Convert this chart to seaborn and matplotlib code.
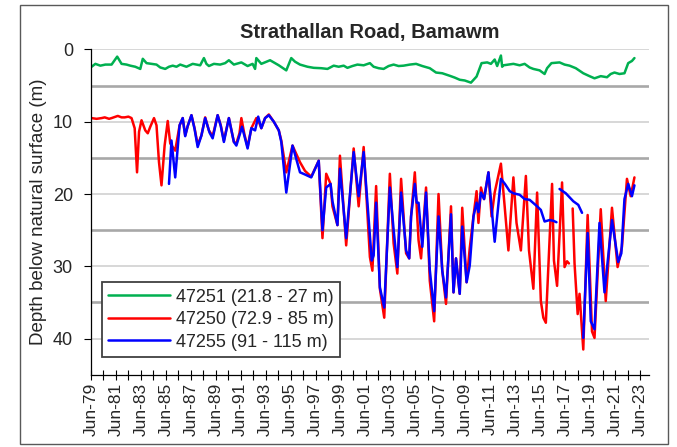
import numpy as np
import pandas as pd
import matplotlib
matplotlib.use('Agg')
import matplotlib.pyplot as plt
from matplotlib.patches import Rectangle
from matplotlib.ticker import FixedLocator, MultipleLocator
import seaborn as sns

# Bore 47251 (shallow)
green_year = [1979.5, 1979.8, 1980.2, 1980.6, 1981.1, 1981.55, 1981.9, 1982.3, 1982.6, 1983.0,
              1983.4, 1983.6, 1983.9, 1984.3, 1984.7, 1985.0, 1985.4, 1985.7, 1986.0, 1986.3,
              1986.6, 1987.1, 1987.6, 1988.2, 1988.5, 1988.7, 1988.9, 1989.3, 1989.8, 1990.2,
              1990.5, 1990.9, 1991.5, 1992.0, 1992.4, 1992.6, 1992.7, 1993.1, 1993.8, 1994.5,
              1995.1, 1995.5, 1995.8, 1996.2, 1996.8, 1997.3, 1997.9, 1998.4, 1998.9, 1999.3,
              1999.7, 2000.0, 2000.4, 2000.8, 2001.3, 2001.8, 2002.1, 2002.5, 2002.9, 2003.3,
              2003.7, 2004.1, 2004.5, 2005.0, 2005.5, 2006.0, 2006.6, 2007.1, 2007.6, 2008.2,
              2008.6, 2009.0, 2009.4, 2009.9, 2010.35, 2010.75, 2011.2, 2011.5, 2011.8, 2012.0,
              2012.3, 2012.4, 2012.5, 2012.9, 2013.3, 2013.8, 2014.2, 2014.6, 2014.9, 2015.4,
              2015.8, 2016.0, 2016.35, 2017.0, 2017.4, 2017.8, 2018.3, 2018.9, 2019.4, 2019.8,
              2020.3, 2020.8, 2021.1, 2021.4, 2021.8, 2022.2, 2022.5, 2022.8, 2023.0]
green_depth = [2.4, 2.0, 2.25, 2.1, 2.1, 1.0, 2.0, 2.1, 2.25, 2.4,
               2.7, 1.3, 1.9, 2.0, 2.1, 2.5, 2.7, 2.4, 2.25, 2.4,
               2.1, 2.4, 2.0, 2.2, 1.2, 2.0, 2.3, 2.0, 2.1, 1.9,
               1.5, 2.1, 1.8, 2.3, 2.0, 2.7, 1.2, 2.0, 1.5, 2.2,
               2.9, 1.2, 1.7, 2.1, 2.4, 2.55, 2.6, 2.7, 2.25, 2.4,
               2.25, 2.55, 2.3, 2.1, 2.2, 1.9, 2.4, 2.6, 2.7, 2.3,
               2.1, 2.3, 2.25, 2.1, 2.0, 2.3, 2.6, 3.2, 3.3, 3.65,
               3.9, 4.2, 4.3, 4.6, 3.75, 1.9, 1.8, 2.0, 1.4, 2.3,
               0.85, 2.4, 2.2, 2.1, 2.0, 2.2, 2.0, 2.5, 2.7, 2.9,
               3.4, 2.6, 1.9, 1.8, 2.1, 2.25, 2.6, 3.3, 3.7, 4.0,
               3.7, 3.85, 3.4, 3.2, 3.4, 3.3, 1.9, 1.6, 1.2]

# Bore 47250 (mid depth), two segments
red_year_a = [1979.48, 1979.9, 1980.3, 1980.55, 1980.9, 1981.1, 1981.6, 1981.9, 1982.15, 1982.45,
              1982.7, 1982.95, 1983.14, 1983.3, 1983.5, 1983.8, 1984.0, 1984.2, 1984.5, 1984.7,
              1984.9, 1985.1, 1985.35, 1985.6, 1985.8, 1986.2, 1986.55, 1986.8, 1987.0, 1987.2,
              1987.5, 1987.75, 1988.0, 1988.3, 1988.6, 1988.9, 1989.2, 1989.6, 1989.85, 1990.1,
              1990.5, 1990.9, 1991.1, 1991.35, 1991.5, 1991.75, 1992.0, 1992.3, 1992.7, 1992.9,
              1993.1, 1993.4, 1993.7, 1994.1, 1994.5, 1994.7, 1995.1, 1995.6, 1996.2, 1996.6,
              1997.1, 1997.7, 1998.0, 1998.3, 1998.65, 1998.8, 1999.2, 1999.4, 1999.9, 2000.5,
              2000.9, 2001.3, 2001.8, 2002.0, 2002.3, 2002.6, 2002.95, 2003.4, 2003.7, 2004.0,
              2004.3, 2004.7, 2004.95, 2005.1, 2005.4, 2005.7, 2005.9, 2006.3, 2006.6, 2006.95,
              2007.3, 2007.6, 2007.9, 2008.3, 2008.5, 2008.7, 2009.0, 2009.2, 2009.55, 2009.8,
              2010.1, 2010.35, 2010.5, 2010.7, 2010.95, 2011.3, 2011.55, 2011.8, 2012.3, 2012.6,
              2012.9, 2013.3, 2013.55, 2013.9, 2014.3, 2014.55, 2014.9, 2015.2, 2015.5, 2015.7,
              2015.9, 2016.4, 2016.55, 2016.8, 2017.2, 2017.4, 2017.6, 2017.75]
red_depth_a = [9.5, 9.6, 9.5, 9.4, 9.6, 9.5, 9.2, 9.4, 9.4, 9.3,
               9.5, 10.9, 17.0, 11.4, 9.8, 11.2, 11.6, 10.7, 9.5, 10.5,
               15.6, 18.8, 13.3, 9.9, 13.0, 14.0, 10.5, 9.5, 11.9, 10.6,
               9.1, 10.9, 13.2, 11.9, 9.4, 11.2, 12.0, 9.1, 10.5, 12.6,
               9.5, 12.8, 13.0, 11.6, 9.5, 11.8, 13.5, 10.9, 9.5, 10.0,
               10.9, 9.5, 9.0, 10.0, 11.2, 12.6, 17.0, 13.3, 15.6, 16.8,
               17.6, 15.4, 26.1, 17.2, 18.6, 21.7, 24.3, 14.7, 27.1, 13.7,
               21.7, 13.5, 28.7, 30.6, 18.9, 33.1, 37.1, 17.2, 26.8, 31.0,
               17.9, 28.2, 28.9, 23.1, 17.0, 26.4, 28.9, 19.1, 32.0, 37.6,
               20.0, 30.6, 35.2, 21.7, 33.6, 28.9, 33.8, 21.9, 32.2, 27.5,
               23.1, 19.6, 24.0, 19.1, 20.7, 17.0, 23.1, 19.8, 15.8, 21.7,
               27.8, 17.7, 24.0, 27.8, 17.5, 27.8, 33.1, 19.8, 34.8, 37.1,
               37.8, 18.6, 29.2, 32.7, 18.4, 30.1, 29.3, 29.6]
red_year_b = [2018.05, 2018.1, 2018.2, 2018.45, 2018.6, 2018.9, 2019.25, 2019.6, 2019.8, 2020.3,
              2020.7, 2021.2, 2021.65, 2022.0, 2022.4, 2022.7, 2023.0]
red_depth_b = [22.0, 24.5, 29.6, 36.6, 33.8, 41.5, 22.9, 39.0, 39.9, 22.1,
               34.8, 21.9, 30.1, 27.3, 17.9, 20.3, 17.7]

# Bore 47255 (deep), three segments
blue_year_a = [1985.7, 1985.9, 1986.2, 1986.55, 1986.8, 1987.0, 1987.2, 1987.5, 1987.75, 1988.0,
               1988.3, 1988.6, 1988.95, 1989.2, 1989.6, 1989.85, 1990.1, 1990.5, 1990.9, 1991.1,
               1991.4, 1991.55, 1991.75, 1992.0, 1992.3, 1992.6, 1992.85, 1993.1, 1993.4, 1993.7,
               1994.1, 1994.5, 1994.7, 1995.1, 1995.6, 1996.2, 1996.6, 1997.1, 1997.7, 1998.0,
               1998.3, 1998.65, 1998.8, 1999.2, 1999.4, 1999.9, 2000.5, 2000.9, 2001.3, 2001.55,
               2001.95, 2002.1, 2002.3, 2002.6, 2002.95, 2003.4, 2003.7, 2004.0, 2004.3, 2004.7,
               2004.95, 2005.1, 2005.4, 2005.55, 2005.7, 2006.0, 2006.3, 2006.6, 2006.95, 2007.3,
               2007.6, 2007.9, 2008.3, 2008.5, 2008.7, 2009.0, 2009.2, 2009.55, 2009.8, 2010.1,
               2010.35, 2010.5, 2010.7, 2010.95, 2011.3, 2011.8, 2012.3, 2012.62, 2013.0, 2013.3,
               2013.8, 2014.2, 2014.6, 2015.2, 2015.5, 2015.8, 2016.2, 2016.5, 2016.75]
blue_depth_a = [18.6, 12.6, 17.7, 10.5, 9.5, 12.0, 10.6, 9.1, 11.0, 13.5,
                11.9, 9.5, 11.5, 12.3, 9.1, 10.6, 12.8, 9.5, 12.8, 13.3,
                11.6, 10.7, 12.0, 13.7, 10.9, 11.2, 9.3, 10.9, 9.5, 9.1,
                10.0, 11.2, 12.8, 19.8, 13.3, 17.0, 17.3, 17.7, 15.4, 25.0,
                19.1, 18.6, 21.0, 24.3, 16.5, 26.1, 14.2, 20.3, 14.2, 20.0,
                29.2, 28.5, 21.2, 32.9, 35.7, 19.1, 24.9, 30.1, 19.8, 27.8,
                28.9, 23.1, 18.6, 21.2, 21.2, 27.3, 19.8, 30.5, 36.2, 23.1,
                30.6, 34.3, 22.8, 33.6, 28.9, 33.8, 24.5, 32.2, 29.9, 23.1,
                21.2, 22.5, 19.8, 20.7, 17.0, 26.6, 17.9, 18.6, 19.6, 19.9,
                20.1, 20.7, 20.8, 21.7, 22.2, 23.8, 23.6, 23.7, 23.9]
blue_year_b = [2017.0, 2017.5, 2018.1, 2018.5, 2018.8]
blue_depth_b = [19.3, 19.9, 21.0, 21.5, 22.6]
blue_year_c = [2018.9, 2019.25, 2019.5, 2019.8, 2020.2, 2020.6, 2021.2, 2021.7, 2021.95, 2022.2,
               2022.5, 2022.8, 2023.0]
blue_depth_c = [39.9, 25.4, 37.6, 38.7, 24.0, 33.6, 23.6, 29.4, 28.2, 20.7,
                18.6, 20.3, 18.8]

labels = ['47251 (21.8 - 27 m)', '47250 (72.9 - 85 m)', '47255 (91 - 115 m)']
tick_years = list(range(1979, 2024, 2))
tick_labels = ['Jun-%02d' % (y % 100) for y in tick_years]

# Build long table, one unit per unbroken segment
segments = [
    (labels[0], 'g', green_year, green_depth),
    (labels[1], 'ra', red_year_a, red_depth_a),
    (labels[1], 'rb', red_year_b, red_depth_b),
    (labels[2], 'ba', blue_year_a, blue_depth_a),
    (labels[2], 'bb', blue_year_b, blue_depth_b),
    (labels[2], 'bc', blue_year_c, blue_depth_c),
]
frames = [pd.DataFrame({'year': yr, 'depth': d, 'bore': lab, 'seg': s})
          for lab, s, yr, d in segments]
df = pd.concat(frames, ignore_index=True)

sns.set_style('white')
plt.rcParams['font.family'] = ['Liberation Sans', 'DejaVu Sans']

fig = plt.figure(figsize=(6.77, 4.47), dpi=100)
ax = fig.add_axes([0.1344, 0.1615, 0.8243, 0.728])

sns.lineplot(data=df, x='year', y='depth', hue='bore', units='seg', estimator=None,
             sort=False, hue_order=labels,
             palette=['#00B050', '#FF0000', '#0000FF'], linewidth=1.8, ax=ax)

ax.set_xlim(1979.45, 2024.17)
ax.set_ylim(45, 0)

ax.yaxis.set_major_locator(MultipleLocator(10))
ax.yaxis.set_minor_locator(FixedLocator([5, 15, 25, 35]))
ax.grid(True, which='major', axis='y', color='#D4D4D4', linewidth=1.3)
ax.grid(True, which='minor', axis='y', color='#A8A8A8', linewidth=1.9)
ax.set_axisbelow(True)

ax.xaxis.set_major_locator(FixedLocator([y + 0.45 for y in tick_years]))
ax.xaxis.set_minor_locator(FixedLocator([y + 1.45 for y in tick_years[:-1]]))
ax.set_xticklabels(tick_labels, rotation=90, fontsize=12.5)
ax.tick_params(axis='x', which='both', direction='inout', length=7, width=0.8,
               bottom=True, color='black', pad=2)
ax.tick_params(axis='y', which='major', direction='out', length=5, width=0.8,
               left=True, color='black', labelsize=13, pad=8)
ax.tick_params(axis='y', which='minor', length=0)

for side in ['top', 'right']:
    ax.spines[side].set_visible(False)
for side in ['left', 'bottom']:
    ax.spines[side].set_color('black')
    ax.spines[side].set_linewidth(0.9)

ax.set_xlabel('')
ax.set_ylabel('Depth below natural surface (m)', fontsize=13.5, labelpad=4)
ax.set_title('Strathallan Road, Bamawm', fontsize=14.5, fontweight='bold', pad=8)

sns.move_legend(ax, 'lower left', bbox_to_anchor=(0.0200, 0.055), title=None,
                frameon=True, fancybox=False, framealpha=1, edgecolor='#404040',
                fontsize=13, handlelength=3.4, handletextpad=0.35, borderaxespad=0,
                borderpad=0.35, labelspacing=0.3)
ax.get_legend().get_frame().set_linewidth(1.3)

fig.patches.append(Rectangle((20 / 677, 3 / 447), 648 / 677, 439 / 447,
                             transform=fig.transFigure, fill=False,
                             edgecolor='#595959', linewidth=1.0))

fig.savefig('out.png', dpi=100)
